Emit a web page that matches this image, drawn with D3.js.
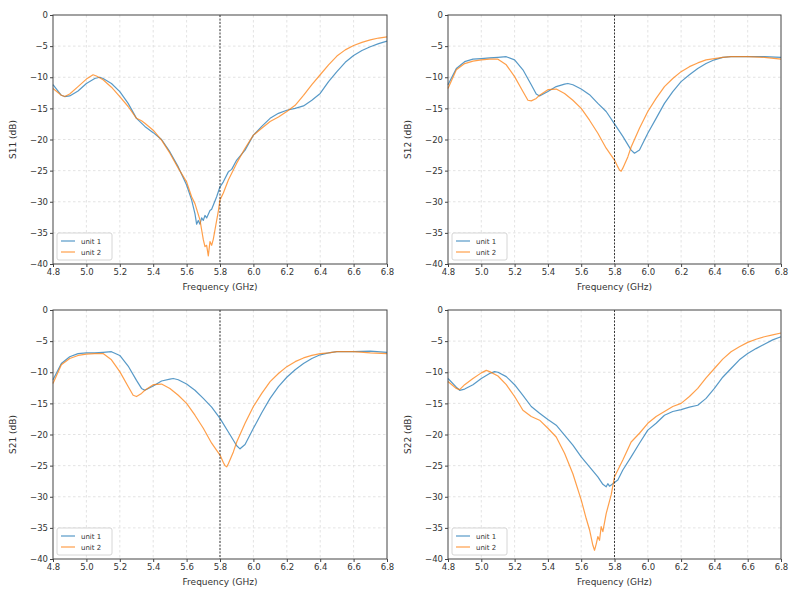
<!DOCTYPE html>
<html><head><meta charset="utf-8">
<script src="https://cdn.jsdelivr.net/npm/d3@7"></script>
<style>body{margin:0;background:#fff}svg{display:block}text{font-family:"DejaVu Sans",sans-serif;fill:#333}</style>
</head><body><svg id="c" width="800" height="600"></svg>
<script>
// ---- data ----
const xTicks = [4.8,5.0,5.2,5.4,5.6,5.8,6.0,6.2,6.4,6.6,6.8];
const yTicks = [0,-5,-10,-15,-20,-25,-30,-35,-40];
const seriesNames = ["unit 1","unit 2"];
const panelLabels = ["S11 (dB)","S12 (dB)","S21 (dB)","S22 (dB)"];
const markerFreq = 5.8;

const s11_unit1 = [[4.8,-11.2],[4.85,-12.9],[4.87,-13.1],[4.9,-13.0],[4.95,-12.2],[5.0,-11.0],[5.05,-10.2],[5.08,-10.0],[5.1,-10.2],[5.15,-11.0],[5.2,-12.3],[5.25,-14.2],[5.3,-16.6],[5.35,-17.9],[5.4,-18.9],[5.45,-20.0],[5.5,-22.0],[5.55,-24.4],[5.6,-27.3],[5.63,-29.7],[5.65,-31.9],[5.66,-33.6],[5.67,-33.0],[5.68,-33.6],[5.69,-32.6],[5.7,-33.0],[5.71,-32.2],[5.72,-32.6],[5.74,-31.4],[5.75,-31.2],[5.78,-29.2],[5.8,-27.6],[5.82,-26.8],[5.85,-25.2],[5.87,-24.8],[5.9,-23.3],[5.95,-21.7],[6.0,-19.3],[6.05,-17.9],[6.1,-16.6],[6.15,-15.8],[6.2,-15.3],[6.25,-15.0],[6.3,-14.6],[6.35,-13.7],[6.4,-12.6],[6.45,-10.7],[6.5,-9.1],[6.55,-7.6],[6.6,-6.5],[6.65,-5.7],[6.7,-5.1],[6.75,-4.6],[6.8,-4.2]];
const s11_unit2 = [[4.8,-11.8],[4.85,-12.9],[4.87,-13.1],[4.9,-12.7],[4.95,-11.5],[5.0,-10.3],[5.04,-9.6],[5.06,-9.8],[5.1,-10.4],[5.15,-11.6],[5.2,-13.1],[5.25,-14.7],[5.3,-16.6],[5.33,-17.0],[5.35,-17.4],[5.4,-18.5],[5.45,-20.1],[5.5,-22.2],[5.55,-24.6],[5.6,-26.8],[5.63,-29.2],[5.65,-30.3],[5.68,-32.9],[5.69,-34.5],[5.7,-36.1],[5.71,-37.2],[5.72,-37.0],[5.73,-38.7],[5.74,-36.4],[5.75,-37.0],[5.76,-36.0],[5.77,-34.5],[5.79,-31.5],[5.8,-29.7],[5.82,-28.6],[5.85,-26.5],[5.9,-23.8],[5.95,-21.4],[6.0,-19.3],[6.05,-18.2],[6.1,-17.1],[6.15,-16.4],[6.2,-15.5],[6.25,-14.5],[6.3,-12.9],[6.35,-11.2],[6.4,-9.6],[6.45,-8.0],[6.5,-6.6],[6.55,-5.6],[6.6,-4.9],[6.65,-4.4],[6.7,-4.0],[6.75,-3.7],[6.8,-3.5]];

const s12_unit1 = [[4.8,-11.2],[4.85,-8.6],[4.9,-7.5],[4.95,-7.1],[5.0,-7.0],[5.05,-6.9],[5.1,-6.8],[5.15,-6.7],[5.2,-7.2],[5.25,-8.8],[5.3,-11.2],[5.33,-12.7],[5.35,-13.0],[5.4,-12.3],[5.45,-11.5],[5.5,-11.1],[5.52,-11.0],[5.55,-11.2],[5.6,-11.9],[5.65,-12.8],[5.7,-14.2],[5.75,-15.5],[5.8,-17.5],[5.85,-19.5],[5.9,-21.7],[5.92,-22.2],[5.95,-21.7],[6.0,-19.0],[6.05,-16.6],[6.1,-14.2],[6.15,-12.3],[6.2,-10.7],[6.25,-9.6],[6.3,-8.6],[6.35,-7.8],[6.4,-7.2],[6.45,-6.8],[6.5,-6.7],[6.6,-6.7],[6.7,-6.7],[6.8,-6.8]];
const s12_unit2 = [[4.8,-11.8],[4.85,-8.8],[4.9,-7.8],[4.95,-7.4],[5.0,-7.2],[5.05,-7.1],[5.1,-7.1],[5.15,-8.0],[5.2,-9.9],[5.25,-12.3],[5.28,-13.7],[5.3,-13.8],[5.33,-13.4],[5.35,-12.9],[5.4,-12.0],[5.45,-11.9],[5.5,-12.6],[5.55,-13.7],[5.6,-15.0],[5.65,-16.9],[5.7,-19.0],[5.75,-21.4],[5.8,-23.3],[5.82,-24.4],[5.83,-24.9],[5.84,-25.1],[5.85,-24.6],[5.88,-22.8],[5.9,-21.2],[5.95,-18.2],[6.0,-15.5],[6.05,-13.4],[6.1,-11.5],[6.15,-10.2],[6.2,-9.1],[6.25,-8.3],[6.3,-7.7],[6.35,-7.2],[6.4,-7.0],[6.45,-6.8],[6.5,-6.7],[6.6,-6.7],[6.7,-6.8],[6.8,-7.1]];

const s21_unit1 = [[4.8,-11.2],[4.85,-8.6],[4.9,-7.5],[4.95,-7.0],[5.0,-6.9],[5.05,-6.9],[5.1,-6.8],[5.15,-6.7],[5.2,-7.3],[5.25,-9.0],[5.3,-11.3],[5.33,-12.6],[5.35,-12.9],[5.4,-12.2],[5.45,-11.4],[5.5,-11.1],[5.52,-11.0],[5.55,-11.2],[5.6,-11.9],[5.65,-12.9],[5.7,-14.2],[5.75,-15.6],[5.8,-17.4],[5.85,-19.6],[5.9,-21.8],[5.92,-22.3],[5.95,-21.6],[6.0,-19.0],[6.05,-16.5],[6.1,-14.2],[6.15,-12.3],[6.2,-10.8],[6.25,-9.6],[6.3,-8.6],[6.35,-7.8],[6.4,-7.2],[6.45,-6.9],[6.5,-6.7],[6.6,-6.7],[6.7,-6.6],[6.8,-6.8]];
const s21_unit2 = [[4.8,-11.8],[4.85,-8.8],[4.9,-7.8],[4.95,-7.3],[5.0,-7.1],[5.05,-7.0],[5.1,-7.0],[5.15,-8.0],[5.2,-9.9],[5.25,-12.3],[5.28,-13.7],[5.3,-13.9],[5.33,-13.4],[5.35,-12.9],[5.4,-12.0],[5.45,-11.9],[5.5,-12.6],[5.55,-13.7],[5.6,-15.0],[5.65,-16.9],[5.7,-19.0],[5.75,-21.4],[5.8,-23.3],[5.82,-24.5],[5.83,-25.0],[5.84,-25.2],[5.85,-24.7],[5.88,-22.8],[5.9,-21.2],[5.95,-18.2],[6.0,-15.5],[6.05,-13.4],[6.1,-11.5],[6.15,-10.2],[6.2,-9.1],[6.25,-8.3],[6.3,-7.7],[6.35,-7.3],[6.4,-7.0],[6.45,-6.9],[6.5,-6.7],[6.6,-6.7],[6.7,-6.9],[6.8,-7.0]];

const s22_unit1 = [[4.8,-11.0],[4.85,-12.4],[4.87,-12.9],[4.9,-12.7],[4.95,-12.0],[5.0,-11.0],[5.05,-10.2],[5.08,-9.9],[5.1,-10.0],[5.15,-10.7],[5.2,-12.0],[5.25,-13.7],[5.3,-15.5],[5.35,-16.6],[5.4,-17.6],[5.45,-18.5],[5.5,-20.1],[5.55,-21.7],[5.6,-23.6],[5.65,-25.2],[5.7,-26.8],[5.73,-28.0],[5.75,-28.4],[5.76,-27.9],[5.77,-28.3],[5.8,-27.7],[5.82,-27.3],[5.85,-25.7],[5.9,-23.6],[5.95,-21.4],[6.0,-19.3],[6.05,-18.2],[6.1,-16.9],[6.15,-16.3],[6.2,-16.0],[6.25,-15.6],[6.3,-15.3],[6.35,-14.2],[6.4,-12.6],[6.45,-10.8],[6.5,-9.4],[6.55,-8.0],[6.6,-7.0],[6.65,-6.2],[6.7,-5.5],[6.75,-4.8],[6.8,-4.3]];
const s22_unit2 = [[4.8,-11.5],[4.85,-12.6],[4.87,-12.8],[4.9,-12.0],[4.95,-11.0],[5.0,-10.1],[5.03,-9.7],[5.05,-9.9],[5.1,-10.6],[5.15,-12.0],[5.2,-13.9],[5.25,-16.1],[5.3,-17.1],[5.35,-17.7],[5.4,-19.0],[5.45,-20.4],[5.5,-23.0],[5.55,-26.3],[5.6,-30.5],[5.63,-33.5],[5.65,-35.3],[5.67,-37.8],[5.68,-38.6],[5.69,-37.6],[5.7,-36.4],[5.71,-37.0],[5.72,-34.8],[5.73,-35.6],[5.75,-32.7],[5.78,-29.7],[5.8,-26.8],[5.85,-24.1],[5.9,-21.2],[5.95,-19.8],[6.0,-18.2],[6.05,-17.1],[6.1,-16.3],[6.15,-15.5],[6.2,-15.0],[6.25,-13.9],[6.3,-12.6],[6.35,-10.9],[6.4,-9.4],[6.45,-7.9],[6.5,-6.7],[6.55,-5.9],[6.6,-5.2],[6.65,-4.7],[6.7,-4.3],[6.75,-4.0],[6.8,-3.7]];

const panelData = [[s11_unit1,s11_unit2],[s12_unit1,s12_unit2],[s21_unit1,s21_unit2],[s22_unit1,s22_unit2]];
const colors = ["#1f77b4","#ff7f0e"];

// ---- layout ----
const panels = [
  {x0:53,x1:387,y0:15,y1:264},
  {x0:448,x1:781,y0:15,y1:264},
  {x0:53,x1:387,y0:310,y1:559},
  {x0:448,x1:781,y0:310,y1:559}
];
const svg = d3.select("#c");

panels.forEach((p,i)=>{
  const x = d3.scaleLinear().domain([4.8,6.8]).range([p.x0,p.x1]);
  const y = d3.scaleLinear().domain([-40,0]).range([p.y1,p.y0]);
  const g = svg.append("g");
  // grid
  g.append("g").selectAll("line").data(xTicks.slice(1,-1)).join("line")
    .attr("x1",d=>x(d)).attr("x2",d=>x(d)).attr("y1",p.y0).attr("y2",p.y1)
    .attr("stroke","#dcdcdc").attr("stroke-width",0.8).attr("stroke-dasharray","2.5,2.5");
  g.append("g").selectAll("line").data(yTicks.slice(1,-1)).join("line")
    .attr("y1",d=>y(d)).attr("y2",d=>y(d)).attr("x1",p.x0).attr("x2",p.x1)
    .attr("stroke","#dcdcdc").attr("stroke-width",0.8).attr("stroke-dasharray","2.5,2.5");
  // axes
  const xa = g.append("g").attr("transform",`translate(0,${p.y1})`)
    .call(d3.axisBottom(x).tickValues(xTicks).tickFormat(d3.format(".1f")).tickSize(3).tickPadding(2));
  const ya = g.append("g").attr("transform",`translate(${p.x0},0)`)
    .call(d3.axisLeft(y).tickValues(yTicks).tickFormat(d=>d===0?"0":"\u2212"+Math.abs(d)).tickSize(3).tickPadding(2));
  [xa,ya].forEach(a=>{
    a.select(".domain").remove();
    a.selectAll("line").attr("stroke","#444");
    a.selectAll("text").attr("font-size",8.5).attr("fill","#333").style("font-family","DejaVu Sans");
  });
  // lines
  const line = d3.line().x(d=>x(d[0])).y(d=>y(d[1]));
  panelData[i].forEach((s,k)=>{
    g.append("path").datum(s).attr("d",line).attr("fill","none")
      .attr("stroke",colors[k]).attr("stroke-width",1.2).attr("stroke-opacity",0.75)
      .attr("stroke-linejoin","round");
  });
  // marker line
  g.append("line").attr("x1",x(markerFreq)).attr("x2",x(markerFreq)).attr("y1",p.y0).attr("y2",p.y1)
    .attr("stroke","#222").attr("stroke-width",0.9).attr("stroke-dasharray","2,1.5");
  // frame
  g.append("rect").attr("x",p.x0).attr("y",p.y0).attr("width",p.x1-p.x0).attr("height",p.y1-p.y0)
    .attr("fill","none").attr("stroke","#444").attr("stroke-width",1);
  // labels
  g.append("text").attr("x",(p.x0+p.x1)/2).attr("y",p.y1+26).attr("text-anchor","middle")
    .attr("font-size",9).text("Frequency (GHz)");
  g.append("text").attr("transform",`translate(${p.x0-37},${(p.y0+p.y1)/2}) rotate(-90)`)
    .attr("text-anchor","middle").attr("font-size",9).text(panelLabels[i]);
  // legend
  const lg = g.append("g").attr("transform",`translate(${p.x0+4},${p.y1-31})`);
  lg.append("rect").attr("width",55).attr("height",27).attr("rx",2).attr("fill","#fff")
    .attr("stroke","#ccc").attr("stroke-width",0.8);
  seriesNames.forEach((n,k)=>{
    lg.append("line").attr("x1",4).attr("x2",18).attr("y1",8+k*11).attr("y2",8+k*11)
      .attr("stroke",colors[k]).attr("stroke-width",1.2).attr("stroke-opacity",0.75);
    lg.append("text").attr("x",24).attr("y",10.5+k*11).attr("font-size",7).text(n);
  });
});
</script></body></html>
